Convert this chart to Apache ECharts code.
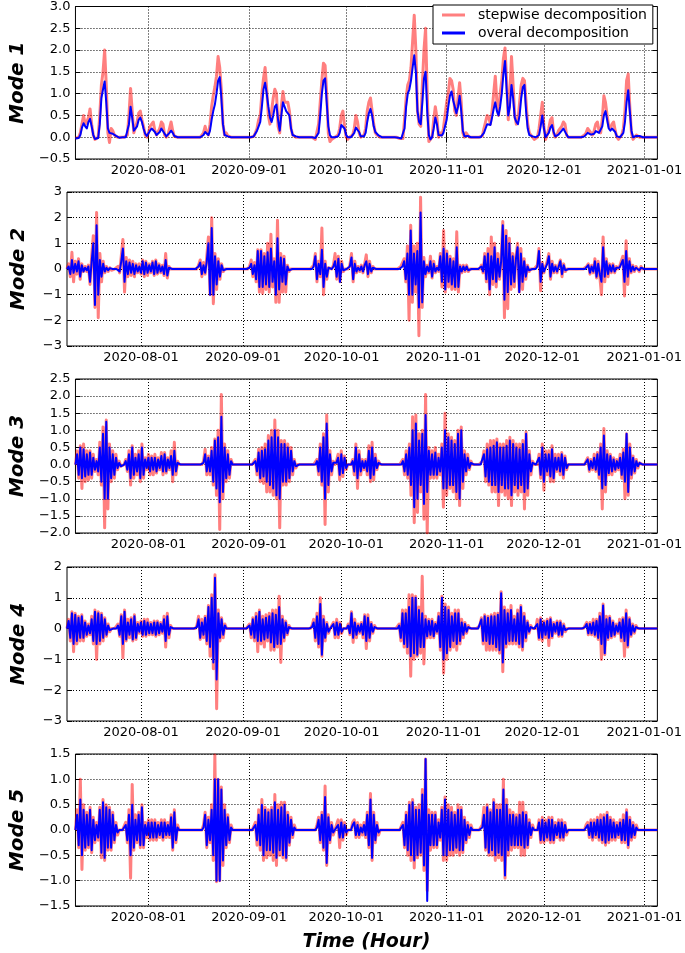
<!DOCTYPE html>
<html><head><meta charset="utf-8">
<script src="https://cdn.jsdelivr.net/npm/echarts@6/dist/echarts.min.js"></script>
<style>html,body{margin:0;padding:0;background:#fff}#c{width:685px;height:953px}</style>
</head><body><div id="c"></div>
<script>
// ---- data (12-hour samples starting 2020-07-09 12:00) ----
const startDate = [2020, 6, 9, 12];
const stepHours = 12;
const xMinDate = [2020, 6, 9, 12];
const xMaxDate = [2021, 0, 5, 0];
const tickDates = ['2020-08-01','2020-09-01','2020-10-01','2020-11-01','2020-12-01','2021-01-01'];
const modeNames = ['Mode 1','Mode 2','Mode 3','Mode 4','Mode 5'];
const yMins = [-0.5, -3, -2, -3, -1.5];
const yMaxs = [3, 3, 2.5, 2, 1.5];
const ySteps = [0.5, 1, 0.5, 1, 0.5];
const yDecimals = [1, 0, 1, 0, 1];
const seriesNames = ['stepwise decomposition', 'overal decomposition'];

const m1Stepwise = [
-0.02,-0.03,0,0.1,0.3,0.5,0.3,0.35,0.45,0.65,
0.3,0.05,-0.05,-0.05,0,0.5,1.2,1.5,2.0,1.2,
0.1,-0.12,0.2,0.15,0.05,0.05,0,-0.02,0,0,
0,0,0.05,0.5,1.12,0.6,0.1,0.1,0.35,0.55,
0.6,0.4,0.25,0.05,0,0.1,0.25,0.3,0.35,0.15,
0.05,0.05,0.2,0.35,0.3,0.05,0,0.05,0.2,0.35,
0.15,0.02,0,0,0,0,0,0,0,0,
0,0,0,0,0,0,0,0,0,0.1,
0.25,0.1,0.05,0.3,0.7,0.95,1.15,1.4,1.85,1.6,
1.1,0.3,0.05,0.1,0.03,0,0,0,0,0,
0,0,0,0,0,0,0,0,0,0,
0.02,0.1,0.2,0.4,0.5,1.0,1.35,1.6,1.1,0.5,
0.3,0.6,0.9,1.1,1.0,0.25,0.1,0.7,1.05,0.8,
0.8,0.8,0.6,0.2,0.05,0.05,0,0,0,0,
0,0,0,0,0,0,0,-0.02,-0.05,-0.05,
0.3,0.8,1.3,1.7,1.65,1.0,0.1,-0.1,-0.05,-0.05,
0,0,0.05,0.2,0.5,0.6,0.25,0,-0.05,0,
0,0.05,0.2,0.5,0.35,0.1,0,-0.02,0.05,0.2,
0.6,0.8,0.9,0.6,0.3,0.1,0.05,0.05,0,0,
0,0,0,0,0,0,0,0,0,-0.02,
-0.03,-0.05,-0.03,0.4,0.9,1.2,1.3,1.6,2.2,2.8,
2.0,0.6,0.3,0.25,1.2,2.0,2.5,1.0,-0.1,-0.1,
0,0.4,0.7,0.45,0,0.1,0.05,0.2,0.5,0.8,
1.0,1.35,1.3,1.1,0.6,0.5,0.9,1.25,0.8,0.1,
0,0.1,0.05,0,0,0,0,0,0,0,
0,0.03,0.2,0.35,0.5,0.45,0.3,0.6,1.0,1.4,
0.8,0.5,1.0,1.3,1.8,2.05,1.3,0.4,1.0,1.85,
1.2,0.5,0.3,0.4,0.8,1.2,1.35,1.3,0.8,0.3,
0.1,0.05,0,-0.05,-0.05,0,0.2,0.5,0.8,0.25,
-0.05,0.05,0.2,0.4,0.45,0.1,0,0.05,0.15,0.2,
0.25,0.35,0.3,0.05,0,0,0,0,0,0,
0,0,0,0,0.05,0.1,0.2,0.2,0.1,0.05,
0.15,0.3,0.35,0.15,0.1,0.4,0.95,0.8,0.5,0.25,
0.2,0.3,0.35,0.15,0,-0.05,0,0.05,0.2,0.6,
1.3,1.45,0.7,0.1,-0.05,-0.03,0.05,0.05,0,0,
0,0,0,0,0,0,0,0,0,0];

const m1Overall = [
-0.03,-0.03,-0.02,0.05,0.22,0.32,0.25,0.2,0.35,0.42,
0.25,0.05,-0.04,-0.05,-0.02,0.3,0.9,1.1,1.28,0.8,
0.2,0.1,0.12,0.08,0.06,0.03,0,-0.01,0,0,
0,0,0.02,0.3,0.7,0.45,0.15,0.12,0.25,0.4,
0.45,0.35,0.2,0.08,0.03,0.05,0.15,0.2,0.22,0.12,
0.05,0.05,0.12,0.2,0.18,0.08,0.02,0.03,0.1,0.15,
0.1,0.03,0,0,0,0,0,0,0,0,
0,0,0,0,0,0,0,0,0,0.05,
0.12,0.1,0.05,0.15,0.4,0.6,0.75,1.0,1.3,1.38,
0.9,0.3,0.05,0.03,0.02,0,0,0,0,0,
0,0,0,0,0,0,0,0,0,0,
0.02,0.05,0.15,0.25,0.35,0.7,1.1,1.25,1.0,0.7,
0.45,0.35,0.5,0.7,0.75,0.4,0.15,0.5,0.8,0.7,
0.6,0.62,0.5,0.2,0.05,0.02,0.02,0,0,0,
0,0,0,0,0,0,0,-0.01,-0.02,-0.03,
0.1,0.5,1.0,1.3,1.35,0.8,0.25,0.05,0,-0.02,
0,0,0.02,0.1,0.28,0.32,0.2,0.05,0,0,
0,0.02,0.1,0.22,0.25,0.12,0.02,0,0.02,0.1,
0.35,0.55,0.65,0.5,0.25,0.12,0.08,0.04,0.02,0,
0,0,0,0,0,0,0,0,0,-0.01,
-0.02,-0.03,-0.03,0.2,0.7,1.0,1.1,1.3,1.6,1.88,
1.5,0.6,0.35,0.3,0.8,1.35,1.5,0.6,0.05,-0.05,
0,0.2,0.45,0.3,0.05,0.05,0.04,0.1,0.25,0.4,
0.7,0.95,1.05,0.85,0.7,0.55,0.7,0.95,0.6,0.15,
0.02,0.05,0.03,0.02,0,0,0,0,0,0,
0,0.02,0.1,0.2,0.3,0.3,0.28,0.45,0.65,0.8,
0.6,0.5,0.7,1.0,1.45,1.75,1.1,0.5,0.7,1.2,
0.9,0.45,0.35,0.3,0.5,0.9,1.15,1.2,0.6,0.2,
0.05,0.02,0.02,0.01,0,0,0.05,0.25,0.5,0.2,
0,0.02,0.1,0.22,0.28,0.12,0.02,0.03,0.06,0.1,
0.15,0.2,0.2,0.06,0,0,0,0,0,0,
0,0,0,0,0.02,0.06,0.1,0.12,0.06,0.05,
0.08,0.14,0.15,0.1,0.08,0.25,0.5,0.6,0.4,0.2,
0.15,0.2,0.22,0.12,0.02,0,0,0.02,0.1,0.35,
0.8,1.08,0.6,0.15,0,0,0.03,0.05,0.03,0,
0,0,0,0,0,0,0,0,0,0];

const m2Stepwise = [
0,0.2,-0.3,0.65,-0.5,0.3,-0.2,0.4,-0.4,0.2,
-0.1,0.1,-0.1,0.15,-0.6,0.5,1.3,-1.5,2.2,-1.9,
0.6,-0.5,0.3,-0.15,0.1,-0.1,0.05,-0.05,0,0,
0,0.1,-0.15,0.5,1.15,-0.9,0.45,-0.3,0.35,-0.25,
0.3,-0.3,0.2,-0.15,0.2,-0.2,0.35,-0.3,0.3,-0.25,
0.2,-0.15,0.3,-0.25,0.35,-0.2,0.2,-0.15,0.15,-0.25,
0.6,-0.35,0.1,0,0,0,0,0,0,0,
0,0,0,0,0,0,0,0,0,0,
0.15,0.35,-0.3,0.25,-0.2,0.5,1.25,-1.0,2.0,-1.35,
0.6,-0.8,0.4,-0.4,0.2,-0.1,0,0,0,0,
0,0,0,0,0,0,0,0,0,0,
0,0.1,0.35,-0.3,0.25,-0.5,0.75,-0.9,0.75,-0.95,
0.6,-0.8,1.0,-0.9,1.35,-0.7,0.4,-1.3,1.9,-1.3,
0.6,-0.9,0.5,-0.9,0.15,-0.1,0,0,0,0,
0,0,0,0,0,0,0,0,0,0,
0.15,0.6,-0.5,0.3,-0.3,1.6,-1.0,0.3,-0.4,0.05,
0,0,0.15,0.6,-0.4,0.5,-0.5,0.3,-0.1,0,
0,0,0.15,0.6,-0.5,0.3,-0.15,0.1,-0.1,0.15,
-0.15,0.2,0.55,-0.3,0.3,-0.15,0.1,0,0,0,
0,0,0,0,0,0,0,0,0,0,
0,0,0,0.1,0.15,0.4,-0.5,0.9,-2.0,1.7,
-1.3,0.9,-0.9,1.0,-2.6,2.8,-1.5,0.45,-0.3,0.15,
-0.15,0.5,-0.35,0.3,-0.15,0.1,-0.1,0.6,-0.7,1.5,
-0.9,0.7,-0.7,0.5,-0.8,0.4,-0.8,1.45,-0.9,0.15,
-0.15,0.15,-0.1,0.15,-0.1,0,0,0,0,0,
0,0,0.15,-0.15,0.6,-0.5,0.8,-1.0,1.25,-0.6,
1.0,-0.7,0.6,-0.4,0.4,1.85,-1.9,1.5,-1.55,1.2,
-0.8,0.6,-0.7,0.5,1.0,-0.9,0.8,-0.8,0.4,-0.4,
0.15,-0.1,0,0,0,0,0.15,0.8,-0.85,0.25,
-0.15,0.1,0.3,0.6,-0.4,0.3,-0.15,0.15,-0.15,0.15,
0.35,-0.3,0.2,-0.1,0,0,0,0,0,0,
0,0,0,0,0,0,0.1,0.2,-0.2,0.15,
-0.15,0.4,-0.35,0.3,-0.3,-1.0,1.25,-0.5,0.4,-0.3,
0.2,-0.15,0.2,-0.15,0.1,0,0.1,0.15,0.5,-1.05,
1.1,-0.6,0.4,-0.15,0.15,-0.1,0.1,0.15,-0.1,0.1,
0,0,0,0,0,0,0,0,0,0];

const m2Overall = [
0,0.1,-0.2,0.35,-0.15,0.2,-0.1,0.3,-0.3,0.15,
-0.1,0.05,-0.05,0.1,-0.5,0.3,1.0,-1.4,1.7,-1.0,
0.35,-0.3,0.2,-0.1,0.05,-0.05,0.03,-0.03,0,0,
0,0.05,-0.1,0.3,0.8,-0.5,0.3,-0.2,0.25,-0.15,
0.2,-0.2,0.15,-0.1,0.1,-0.15,0.3,-0.2,0.25,-0.15,
0.15,-0.1,0.25,-0.2,0.3,-0.15,0.15,-0.1,0.1,-0.2,
0.35,-0.25,0.05,0,0,0,0,0,0,0,
0,0,0,0,0,0,0,0,0,0,
0.1,0.25,-0.2,0.15,-0.15,0.3,1.0,-1.0,1.6,-1.0,
0.5,-0.6,0.3,-0.3,0.15,-0.05,0,0,0,0,
0,0,0,0,0,0,0,0,0,0,
0,0.05,0.2,-0.2,0.15,-0.4,0.7,-0.7,0.7,-0.7,
0.5,-0.6,0.65,-0.7,0.8,-0.5,0.3,-1.0,1.2,-0.8,
0.45,-0.5,0.4,-0.6,0.1,-0.05,0,0,0,0,
0,0,0,0,0,0,0,0,0,0,
0.1,0.5,-0.4,0.2,-0.2,0.75,-0.7,0.2,-0.3,0.05,
0,0,0.1,0.3,-0.3,0.4,-0.5,0.2,-0.05,0,
0,0,0.1,0.45,-0.4,0.2,-0.1,0.05,-0.05,0.1,
-0.1,0.15,0.3,-0.2,0.2,-0.1,0.05,0,0,0,
0,0,0,0,0,0,0,0,0,0,
0,0,0,0.05,0.1,0.3,-0.4,0.6,-1.0,1.5,
-1.0,0.6,-0.6,0.7,-1.5,2.2,-1.3,0.3,-0.2,0.1,
-0.1,0.3,-0.3,0.2,-0.1,0.05,-0.05,0.5,-0.5,0.8,
-0.8,0.6,-0.5,0.4,-0.6,0.3,-0.7,0.85,-0.7,0.1,
-0.1,0.1,-0.05,0.1,-0.05,0,0,0,0,0,
0,0,0.1,-0.1,0.5,-0.4,0.6,-0.8,0.5,-0.4,
0.85,-0.5,0.4,-0.3,0.3,1.7,-1.2,1.3,-0.9,1.0,
-0.6,0.5,-0.5,0.4,0.85,-0.9,0.6,-0.5,0.3,-0.3,
0.1,-0.05,0,0,0,0,0.1,0.7,-0.5,0.2,
-0.1,0.05,0.2,0.5,-0.3,0.2,-0.1,0.1,-0.1,0.1,
0.3,-0.2,0.15,-0.05,0,0,0,0,0,0,
0,0,0,0,0,0,0.05,0.15,-0.15,0.1,
-0.1,0.3,-0.3,0.2,-0.2,-0.5,0.85,-0.3,0.3,-0.2,
0.15,-0.1,0.15,-0.1,0.05,0,0.05,0.1,0.35,-0.5,
0.7,-0.3,0.3,-0.1,0.1,-0.05,0.05,0.1,-0.05,0.05,
0,0,0,0,0,0,0,0,0,0];

const m3Stepwise = [
0,0.4,-0.4,0.55,-0.7,0.6,-0.5,0.4,-0.45,0.4,
-0.4,0.3,-0.2,0.15,-0.3,0.65,-0.6,1.1,-1.85,1.3,
-1.3,0.6,-0.5,0.4,-0.4,0.3,-0.15,0.1,-0.05,0,
0,0.15,-0.2,0.4,-0.6,0.55,-0.4,0.3,-0.3,0.4,
-0.5,0.6,-0.4,0.2,-0.15,0.3,-0.3,0.25,-0.3,0.3,
-0.25,0.2,-0.15,0.35,-0.3,0.35,-0.25,0.2,-0.15,0.4,
-0.5,0.65,-0.3,0.1,0,0,0,0,0,0,
0,0,0,0,0,0,0,0,0,0.1,
0.45,-0.3,0.25,-0.3,0.5,-0.6,0.75,-0.9,1.0,-1.9,
2.05,-1.0,0.6,-0.5,0.4,-0.4,0.15,0,0,0,
0,0,0,0,0,0,0,0,0,0,
0,0.15,-0.3,0.45,-0.5,0.5,-0.55,0.6,-0.8,0.85,
-0.8,1.0,-0.9,1.3,-1.0,1.0,-1.85,0.7,-0.6,0.7,
-0.6,0.6,-0.5,0.5,-0.3,0.15,-0.1,0,0,0,
0,0,0,0,0,0,0,0,0,0.15,
-0.3,0.6,-0.6,0.9,-1.75,1.45,-0.8,0.4,-0.3,0.1,
0,0.1,0.3,-0.45,0.4,-0.35,0.25,-0.15,0,0,
0,0.15,-0.3,0.6,-0.7,0.4,-0.3,0.15,-0.15,0.15,
-0.3,0.55,-0.5,0.65,-0.45,0.3,-0.15,0.1,0,0,
0,0,0,0,0,0,0,0,0,0,
0,0,0.15,-0.3,0.4,-0.4,0.6,-0.9,1.4,-1.7,
1.45,-1.4,0.9,-0.8,1.0,-1.6,2.05,-2.0,0.5,-0.4,
0.4,-0.4,0.5,-0.4,0.3,-0.3,0.6,-1.25,1.5,-0.9,
0.9,-0.7,0.8,-0.8,0.7,-1.0,1.0,-1.2,1.1,-0.7,
0.4,-0.3,0.3,-0.15,0.1,0,0,0,0,0,
0,0.1,0.4,-0.5,0.6,-0.6,0.7,-0.8,0.7,-0.8,
0.75,-1.2,0.6,-0.8,0.6,-0.9,0.7,-1.0,0.8,-1.2,
0.7,-0.8,0.6,-0.9,0.6,-0.8,0.7,-1.3,0.95,-0.9,
0.4,-0.3,0.1,0,0,0,0.3,-0.4,0.6,-0.75,
0.4,-0.3,0.4,-0.5,0.55,-0.5,0.3,-0.2,0.3,-0.3,
0.35,-0.4,0.25,-0.15,0,0,0,0,0,0,
0,0,0,0,0,0.1,0.2,-0.2,0.15,-0.15,
0.3,-0.2,0.35,-0.4,0.6,-1.3,1.05,-0.8,0.4,-0.3,
0.3,-0.3,0.2,-0.2,0.15,-0.15,0.3,-0.4,0.45,-1.0,
0.9,-0.9,0.6,-0.4,0.25,-0.25,0.15,-0.1,0.05,0,
0,0,0,0,0,0,0,0,0,0];

const m3Overall = [
0,0.3,-0.3,0.5,-0.4,0.45,-0.35,0.3,-0.3,0.35,
-0.3,0.2,-0.15,0.1,-0.2,0.5,-0.5,0.9,-1.0,1.25,
-1.0,0.5,-0.4,0.3,-0.3,0.2,-0.1,0.05,-0.05,0,
0,0.1,-0.15,0.3,-0.4,0.5,-0.3,0.2,-0.2,0.3,
-0.4,0.5,-0.3,0.15,-0.1,0.2,-0.2,0.2,-0.15,0.2,
-0.2,0.15,-0.1,0.25,-0.2,0.3,-0.2,0.15,-0.1,0.25,
-0.3,0.4,-0.2,0.05,0,0,0,0,0,0,
0,0,0,0,0,0,0,0,0,0.05,
0.3,-0.2,0.2,-0.2,0.4,-0.5,0.7,-0.7,0.8,-1.1,
1.4,-0.8,0.5,-0.4,0.3,-0.3,0.1,0,0,0,
0,0,0,0,0,0,0,0,0,0,
0,0.1,-0.2,0.35,-0.4,0.4,-0.35,0.45,-0.5,0.7,
-0.6,0.8,-0.7,1.0,-0.9,0.8,-1.0,0.6,-0.5,0.6,
-0.5,0.5,-0.4,0.4,-0.2,0.1,-0.05,0,0,0,
0,0,0,0,0,0,0,0,0,0.1,
-0.2,0.5,-0.5,0.8,-1.0,1.2,-0.6,0.3,-0.2,0.05,
0,0.05,0.2,-0.3,0.3,-0.25,0.2,-0.1,0,0,
0,0.1,-0.2,0.5,-0.4,0.3,-0.2,0.1,-0.1,0.1,
-0.2,0.4,-0.4,0.5,-0.3,0.2,-0.1,0.05,0,0,
0,0,0,0,0,0,0,0,0,0,
0,0,0.1,-0.2,0.3,-0.3,0.5,-0.6,1.0,-1.25,
1.2,-1.0,0.7,-0.6,0.9,-1.15,1.45,-0.8,0.4,-0.3,
0.3,-0.3,0.35,-0.3,0.2,-0.2,0.5,-0.7,1.0,-0.7,
0.8,-0.6,0.7,-0.6,0.6,-0.8,0.9,-1.0,1.0,-0.5,
0.3,-0.2,0.2,-0.1,0.05,0,0,0,0,0,
0,0.05,0.3,-0.35,0.45,-0.5,0.5,-0.6,0.55,-0.6,
0.65,-0.8,0.5,-0.6,0.5,-0.7,0.55,-0.7,0.7,-0.9,
0.6,-0.6,0.5,-0.7,0.45,-0.6,0.6,-0.8,0.9,-0.7,
0.3,-0.2,0.05,0,0,0,0.2,-0.3,0.5,-0.5,
0.3,-0.2,0.3,-0.35,0.45,-0.4,0.2,-0.15,0.2,-0.2,
0.3,-0.3,0.2,-0.1,0,0,0,0,0,0,
0,0,0,0,0,0.05,0.15,-0.15,0.1,-0.1,
0.2,-0.15,0.3,-0.3,0.5,-0.7,0.85,-0.6,0.3,-0.25,
0.25,-0.2,0.15,-0.15,0.1,-0.1,0.2,-0.3,0.35,-0.5,
0.9,-0.8,0.5,-0.3,0.2,-0.2,0.1,-0.05,0.05,0,
0,0,0,0,0,0,0,0,0,0];

const m4Stepwise = [
0,0.3,-0.4,0.55,-0.75,0.5,-0.5,0.4,-0.4,0.45,
-0.4,0.25,-0.25,0.15,-0.2,0.4,-0.5,0.6,-1.0,0.55,
-0.5,0.5,-0.4,0.35,-0.25,0.15,-0.1,0,0,0,
0,0.15,-0.25,0.45,-0.95,0.6,-0.4,0.3,-0.3,0.35,
-0.4,0.45,-0.35,0.2,-0.15,0.25,-0.25,0.3,-0.25,0.3,
-0.2,0.2,-0.2,0.25,-0.25,0.25,-0.2,0.2,-0.15,0.4,
-0.6,0.5,-0.3,0.1,0,0,0,0,0,0,
0,0,0,0,0,0,0,0,0,0.1,
0.4,-0.35,0.3,-0.3,0.4,-0.5,0.75,-0.9,1.1,-1.3,
1.75,-2.6,0.6,-0.4,0.35,-0.3,0.15,0,0,0,
0,0,0,0,0,0,0,0,0,0,
0,0.15,-0.3,0.35,-0.4,0.5,-0.75,0.6,-0.5,0.4,
-0.6,0.45,-0.4,0.5,-0.7,0.6,-0.7,0.6,-0.6,1.05,
-1.1,0.4,-0.4,0.25,-0.2,0.1,0,0,0,0,
0,0,0,0,0,0,0,0,0,0.1,
0.3,-0.4,0.5,-0.6,1.0,-0.9,0.4,-0.4,0.2,-0.15,
0,0.1,0.2,-0.3,0.3,-0.3,0.2,-0.15,0,0,
0,0.15,-0.2,0.55,-0.45,0.3,-0.3,0.15,-0.15,0.2,
-0.3,0.45,-0.65,0.45,-0.4,0.2,-0.15,0.1,0,0,
0,0,0,0,0,0,0,0,0,0,
0,0,0.15,-0.4,0.6,-0.6,0.6,-0.8,1.1,-1.55,
1.1,-1.0,1.05,-0.9,0.7,-0.8,1.7,-1.15,0.4,-0.3,
0.3,-0.3,0.3,-0.3,0.2,-0.15,0.5,-0.7,1.05,-1.45,
0.8,-1.0,0.7,-0.7,0.5,-0.6,0.6,-0.7,0.6,-0.5,
0.3,-0.3,0.2,-0.15,0.1,0,0,0,0,0,
0,0.1,0.35,-0.5,0.45,-0.7,0.4,-0.7,0.45,-0.7,
0.5,-0.7,0.5,-0.8,1.2,-1.4,0.7,-0.6,0.6,-0.5,
0.75,-0.5,0.4,-0.5,0.6,-0.6,0.75,-0.7,0.5,-0.4,
0.25,-0.15,0.1,0,0,0,0.3,-0.35,0.35,-0.4,
0.25,-0.3,0.3,-0.55,0.35,-0.3,0.2,-0.15,0.25,-0.25,
0.25,-0.25,0.15,-0.1,0,0,0,0,0,0,
0,0,0,0,0,0.1,0.2,-0.2,0.2,-0.2,
0.3,-0.25,0.3,-0.35,0.5,-1.0,0.8,-0.85,0.4,-0.35,
0.4,-0.3,0.25,-0.25,0.15,-0.15,0.3,-0.4,0.35,-0.9,
0.6,-0.6,0.35,-0.25,0.15,-0.15,0.1,0,0,0,
0,0,0,0,0,0,0,0,0,0];

const m4Overall = [
0,0.25,-0.3,0.5,-0.5,0.45,-0.4,0.35,-0.3,0.4,
-0.3,0.2,-0.2,0.1,-0.15,0.3,-0.4,0.55,-0.5,0.5,
-0.4,0.45,-0.3,0.3,-0.2,0.1,-0.05,0,0,0,
0,0.1,-0.2,0.4,-0.5,0.55,-0.35,0.2,-0.2,0.3,
-0.35,0.4,-0.3,0.15,-0.1,0.2,-0.2,0.25,-0.2,0.2,
-0.15,0.15,-0.15,0.2,-0.2,0.2,-0.15,0.15,-0.1,0.3,
-0.4,0.4,-0.2,0.05,0,0,0,0,0,0,
0,0,0,0,0,0,0,0,0,0.05,
0.3,-0.3,0.2,-0.2,0.35,-0.4,0.7,-0.6,1.0,-1.1,
1.65,-1.65,0.5,-0.3,0.3,-0.2,0.1,0,0,0,
0,0,0,0,0,0,0,0,0,0,
0,0.1,-0.2,0.3,-0.3,0.4,-0.4,0.55,-0.4,0.3,
-0.35,0.35,-0.3,0.4,-0.45,0.5,-0.6,0.45,-0.5,0.7,
-0.5,0.3,-0.3,0.2,-0.15,0.05,0,0,0,0,
0,0,0,0,0,0,0,0,0,0.05,
0.2,-0.3,0.4,-0.5,0.8,-0.85,0.3,-0.3,0.15,-0.1,
0,0.05,0.15,-0.2,0.2,-0.2,0.15,-0.1,0,0,
0,0.1,-0.15,0.5,-0.3,0.2,-0.2,0.1,-0.1,0.15,
-0.2,0.4,-0.4,0.35,-0.3,0.15,-0.1,0.05,0,0,
0,0,0,0,0,0,0,0,0,0,
0,0,0.1,-0.3,0.5,-0.5,0.5,-0.6,0.7,-0.9,
1.0,-0.8,1.0,-0.85,0.6,-0.6,0.5,-0.6,0.3,-0.25,
0.25,-0.2,0.25,-0.25,0.15,-0.1,0.4,-0.6,1.0,-1.0,
0.7,-0.8,0.6,-0.6,0.4,-0.4,0.5,-0.5,0.5,-0.4,
0.2,-0.2,0.15,-0.1,0.05,0,0,0,0,0,
0,0.05,0.3,-0.4,0.4,-0.4,0.35,-0.5,0.4,-0.5,
0.4,-0.6,0.45,-0.7,1.15,-1.1,0.6,-0.5,0.5,-0.4,
0.6,-0.4,0.3,-0.4,0.5,-0.5,0.7,-0.6,0.4,-0.3,
0.2,-0.1,0.05,0,0,0,0.15,-0.3,0.3,-0.3,
0.2,-0.2,0.25,-0.3,0.3,-0.25,0.15,-0.1,0.2,-0.2,
0.2,-0.2,0.1,-0.05,0,0,0,0,0,0,
0,0,0,0,0,0.05,0.15,-0.15,0.15,-0.15,
0.2,-0.2,0.25,-0.3,0.4,-0.5,0.75,-0.8,0.3,-0.3,
0.35,-0.25,0.2,-0.2,0.1,-0.1,0.2,-0.3,0.3,-0.4,
0.5,-0.55,0.3,-0.2,0.1,-0.1,0.05,0,0,0,
0,0,0,0,0,0,0,0,0,0];

const m5Stepwise = [
0,0.4,-0.35,1.0,-0.78,0.5,-0.4,0.35,-0.35,0.45,
-0.45,0.25,-0.25,0.15,-0.2,0.45,-0.55,0.6,-0.6,0.5,
-0.4,0.45,-0.4,0.35,-0.25,0.15,-0.1,0,0,0,
0,0.15,-0.25,0.4,-0.95,0.9,-0.4,0.3,-0.25,0.35,
-0.35,0.5,-0.35,0.15,-0.15,0.2,-0.2,0.2,-0.2,0.2,
-0.2,0.15,-0.15,0.2,-0.2,0.2,-0.15,0.15,-0.15,0.3,
-0.4,0.4,-0.25,0.1,0,0,0,0,0,0,
0,0,0,0,0,0,0,0,0,0.1,
0.35,-0.35,0.25,-0.25,0.5,-0.6,1.48,-1.02,1.0,-1.0,
0.85,-0.7,0.5,-0.35,0.3,-0.25,0.1,0,0,0,
0,0,0,0,0,0,0,0,0,0,
0,0.15,-0.3,0.4,-0.4,0.6,-0.6,0.45,-0.55,0.4,
-0.5,0.45,-0.6,0.7,-0.7,0.5,-0.5,0.55,-0.55,0.55,
-0.6,0.35,-0.3,0.25,-0.15,0.1,0,0,0,0,
0,0,0,0,0,0,0,0,0,0.1,
0.25,-0.25,0.35,-0.4,0.87,-0.7,0.3,-0.25,0.15,-0.1,
0,0.1,0.2,-0.35,0.2,-0.2,0.15,-0.1,0,0,
0,0.15,0.2,-0.15,0.15,-0.15,0.1,-0.1,0.15,-0.15,
0.35,-0.35,0.72,-0.6,0.35,-0.25,0.15,-0.1,0,0,
0,0,0,0,0,0,0,0,0,0,
0,0,0.15,-0.35,0.35,-0.5,0.55,-0.6,0.6,-0.75,
0.45,-0.55,0.5,-0.5,0.8,-0.8,1.4,-1.2,0.4,-0.4,
0.35,-0.35,0.35,-0.35,0.2,-0.2,0.45,-0.6,0.65,-0.6,
0.5,-0.5,0.45,-0.5,0.35,-0.45,0.5,-0.5,0.45,-0.45,
0.25,-0.25,0.15,-0.15,0.1,0,0,0,0,0,
0,0.1,0.45,-0.4,0.5,-0.5,0.4,-0.5,0.6,-0.6,
0.5,-0.55,0.5,-0.6,1.0,-0.95,0.6,-0.5,0.4,-0.4,
0.35,-0.35,0.3,-0.35,0.55,-0.5,0.55,-0.5,0.35,-0.35,
0.2,-0.15,0.1,0,0,0,0.2,-0.25,0.25,-0.25,
0.2,-0.2,0.25,-0.25,0.25,-0.25,0.15,-0.15,0.2,-0.2,
0.2,-0.2,0.15,-0.1,0,0,0,0,0,0,
0,0,0,0,0,0.1,0.15,-0.15,0.2,-0.2,
0.2,-0.15,0.25,-0.2,0.3,-0.25,0.3,-0.3,0.35,-0.25,
0.25,-0.2,0.2,-0.2,0.15,-0.15,0.2,-0.25,0.3,-0.25,
0.4,-0.35,0.25,-0.2,0.15,-0.15,0.1,0,0,0,
0,0,0,0,0,0,0,0,0,0];

const m5Overall = [
0,0.3,-0.3,0.6,-0.5,0.4,-0.35,0.3,-0.3,0.4,
-0.4,0.2,-0.2,0.1,-0.15,0.4,-0.45,0.55,-0.55,0.45,
-0.35,0.4,-0.35,0.3,-0.2,0.1,-0.05,0,0,0,
0,0.1,-0.2,0.3,-0.5,0.5,-0.35,0.2,-0.2,0.3,
-0.3,0.45,-0.3,0.1,-0.1,0.15,-0.15,0.15,-0.15,0.15,
-0.15,0.1,-0.1,0.15,-0.15,0.15,-0.1,0.1,-0.1,0.25,
-0.35,0.35,-0.2,0.05,0,0,0,0,0,0,
0,0,0,0,0,0,0,0,0,0.05,
0.3,-0.3,0.2,-0.2,0.4,-0.5,1.0,-1.0,1.0,-1.0,
0.8,-0.6,0.4,-0.3,0.25,-0.2,0.05,0,0,0,
0,0,0,0,0,0,0,0,0,0,
0,0.1,-0.2,0.3,-0.3,0.5,-0.5,0.4,-0.4,0.35,
-0.4,0.4,-0.45,0.55,-0.55,0.4,-0.4,0.45,-0.5,0.5,
-0.55,0.3,-0.25,0.2,-0.1,0.05,0,0,0,0,
0,0,0,0,0,0,0,0,0,0.05,
0.2,-0.2,0.3,-0.35,0.65,-0.65,0.25,-0.2,0.1,-0.05,
0,0.05,0.1,-0.15,0.15,-0.15,0.1,-0.05,0,0,
0,0.1,0.15,-0.1,0.1,-0.1,0.05,-0.05,0.1,-0.1,
0.3,-0.3,0.6,-0.55,0.3,-0.2,0.1,-0.05,0,0,
0,0,0,0,0,0,0,0,0,0,
0,0,0.1,-0.3,0.3,-0.4,0.5,-0.5,0.55,-0.6,
0.4,-0.5,0.4,-0.45,0.7,-0.7,1.4,-1.4,0.3,-0.3,
0.3,-0.3,0.3,-0.3,0.15,-0.15,0.4,-0.5,0.6,-0.5,
0.4,-0.4,0.35,-0.4,0.3,-0.35,0.4,-0.4,0.4,-0.4,
0.2,-0.2,0.1,-0.1,0.05,0,0,0,0,0,
0,0.05,0.3,-0.35,0.45,-0.45,0.35,-0.4,0.55,-0.5,
0.4,-0.45,0.4,-0.5,0.8,-0.9,0.5,-0.4,0.3,-0.3,
0.3,-0.3,0.25,-0.3,0.3,-0.3,0.35,-0.35,0.3,-0.3,
0.15,-0.1,0.05,0,0,0,0.15,-0.2,0.2,-0.2,
0.15,-0.15,0.2,-0.2,0.2,-0.2,0.1,-0.1,0.15,-0.15,
0.15,-0.15,0.1,-0.05,0,0,0,0,0,0,
0,0,0,0,0,0.05,0.1,-0.1,0.15,-0.15,
0.15,-0.1,0.2,-0.15,0.2,-0.2,0.25,-0.25,0.3,-0.2,
0.2,-0.15,0.15,-0.15,0.1,-0.1,0.15,-0.2,0.2,-0.2,
0.35,-0.3,0.2,-0.15,0.1,-0.1,0.05,0,0,0,
0,0,0,0,0,0,0,0,0,0];

const stepwiseData = [m1Stepwise, m2Stepwise, m3Stepwise, m4Stepwise, m5Stepwise];
const overallData = [m1Overall, m2Overall, m3Overall, m4Overall, m5Overall];

// ---- chart ----
const FONT = 'DejaVu Sans';
const t0 = new Date(startDate[0], startDate[1], startDate[2], startDate[3]).getTime();
const stepMs = stepHours * 3600 * 1000;
const withTime = arr => arr.map((v, i) => [t0 + i * stepMs, v]);
const tickValues = tickDates.map(s => { const p = s.split('-').map(Number); return new Date(p[0], p[1]-1, p[2]).getTime(); });
const xMin = new Date(...xMinDate).getTime();
const xMax = new Date(...xMaxDate).getTime();
const pad = n => (n < 10 ? '0' : '') + n;
const fmtDate = v => { const d = new Date(v); return d.getFullYear() + '-' + pad(d.getMonth()+1) + '-' + pad(d.getDate()); };

const gridTops = [5, 192, 379, 567, 754];
const gridH = 154;
const grids = [], xAxes = [], yAxes = [], series = [];
for (let k = 0; k < 5; k++) {
  grids.push({left: 67, right: 26, top: gridTops[k], height: gridH, show: true, borderColor: '#000', borderWidth: 1, backgroundColor: 'transparent'});
  const baseX = {
    type: 'value', gridIndex: k, min: xMin, max: xMax, scale: true,
    axisLine: {show: false},
    axisTick: {show: true, inside: true, length: 5, customValues: tickValues, lineStyle: {color: '#000', width: 1}},
  };
  xAxes.push(Object.assign({}, baseX, {
    position: 'bottom',
    axisLabel: {show: true, customValues: tickValues, formatter: v => fmtDate(v), fontSize: 13, color: '#000', fontFamily: FONT, margin: 5, hideOverlap: false},
    splitLine: {show: true, lineStyle: {color: '#000', type: [1, 2], width: 1}},
    name: k === 4 ? 'Time (Hour)' : '', nameLocation: 'middle', nameGap: 27,
    nameTextStyle: {fontSize: 19, fontWeight: 'bold', fontStyle: 'italic', fontFamily: FONT, color: '#000'}
  }));
  xAxes.push(Object.assign({}, baseX, {position: 'top', axisLabel: {show: false}, splitLine: {show: false}}));
  const dec = yDecimals[k];
  const baseY = {type: 'value', gridIndex: k, min: yMins[k], max: yMaxs[k], interval: ySteps[k],
    axisLine: {show: false},
    axisTick: {show: true, inside: true, length: 5, lineStyle: {color: '#000', width: 1}}};
  yAxes.push(Object.assign({}, baseY, {
    position: 'left',
    axisLabel: {fontSize: 13, color: '#000', fontFamily: FONT, margin: 5,
      formatter: v => (v < -1e-9 ? '\u2212' : '') + Math.abs(v).toFixed(dec)},
    splitLine: {show: true, lineStyle: {color: '#000', type: [1, 2], width: 1}},
    name: modeNames[k], nameLocation: 'middle', nameRotate: 90, nameGap: 38,
    nameTextStyle: {fontSize: 20, fontWeight: 'bold', fontStyle: 'italic', fontFamily: FONT, color: '#000'}
  }));
  yAxes.push(Object.assign({}, baseY, {position: 'right', axisLabel: {show: false}, splitLine: {show: false}}));
  series.push({
    name: seriesNames[0], type: 'line', xAxisIndex: 2*k, yAxisIndex: 2*k,
    data: withTime(stepwiseData[k]), showSymbol: false, symbol: 'none',
    lineStyle: {color: 'rgba(255,0,0,0.5)', width: 3, join: 'round'}, itemStyle: {color: 'rgba(255,0,0,0.5)'},
    z: 2, clip: true
  });
  series.push({
    name: seriesNames[1], type: 'line', xAxisIndex: 2*k, yAxisIndex: 2*k,
    data: withTime(overallData[k]), showSymbol: false, symbol: 'none',
    lineStyle: {color: '#0000ff', width: 2, join: 'round'}, itemStyle: {color: '#0000ff'},
    z: 3, clip: true
  });
}

const chart = echarts.init(document.getElementById('c'), null, {renderer: 'canvas'});
chart.setOption({
  animation: false,
  backgroundColor: '#fff',
  textStyle: {fontFamily: FONT},
  grid: grids, xAxis: xAxes, yAxis: yAxes, series: series,
  legend: {
    data: seriesNames, orient: 'vertical', left: 433, top: 5,
    padding: [3, 6, 4, 9], itemGap: 4, itemWidth: 23, itemHeight: 3, icon: 'rect',
    borderColor: '#000', borderWidth: 1, backgroundColor: '#fff',
    textStyle: {fontSize: 14, color: '#000', fontFamily: FONT, lineHeight: 14, padding: [0, 0, 0, 8]},
    z: 10
  }
});
</script></body></html>
